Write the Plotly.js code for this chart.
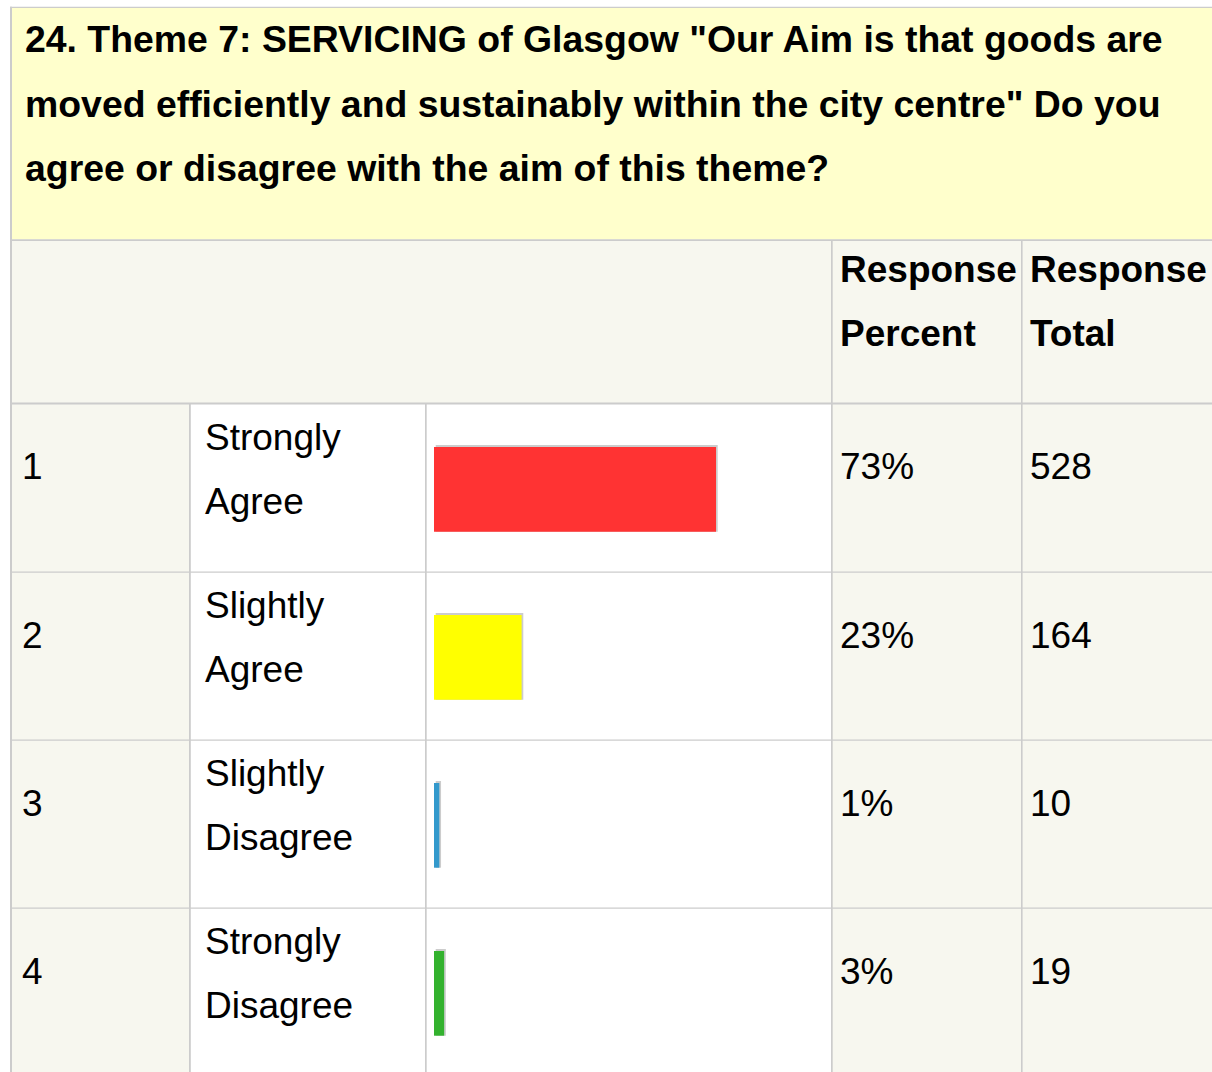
<!DOCTYPE html>
<html>
<head>
<meta charset="utf-8">
<script src="https://cdn.plot.ly/plotly-3.0.1.min.js"></script>
<style>
  html, body { margin: 0; padding: 0; background: #ffffff; }
  #chart { width: 1212px; height: 1072px; }
</style>
</head>
<body>
<div id="chart"></div>
<script>
// ---- data ----
const titleLines = [
  '24. Theme 7: SERVICING of Glasgow "Our Aim is that goods are',
  'moved efficiently and sustainably within the city centre" Do you',
  'agree or disagree with the aim of this theme?'
];
const headerPercent = ['Response', 'Percent'];
const headerTotal = ['Response', 'Total'];
const rowNumbers = ['1', '2', '3', '4'];
const answerLabels = [['Strongly', 'Agree'], ['Slightly', 'Agree'], ['Slightly', 'Disagree'], ['Strongly', 'Disagree']];
const responsePercent = [73, 23, 1, 3];
const responseTotal = [528, 164, 10, 19];
const barColors = ['#FF3333', '#FFFF00', '#3399CC', '#33B22E'];

// ---- geometry helpers (pixels -> paper) ----
const W = 1212, H = 1072;
const px = x => x / W;
const py = y => 1 - y / H;
const FONT = 'Liberation Sans, Arial, Helvetica, sans-serif';
const FS = 37;
const FS_TITLE = 37.4;
const GRID = '#CCCCCC';
const BEIGE = '#F7F7EF';

function rect(x0, y0, x1, y1, color) {
  return { type: 'rect', xref: 'paper', yref: 'paper', layer: 'below',
    x0: px(x0), x1: px(x1), y0: py(y1), y1: py(y0),
    fillcolor: color, line: { width: 0 } };
}

const rowTop = 404, rowH = 168;
const shapes = [
  rect(12, 8, W, 239.5, '#FFFFCC'),
  rect(12, 241, W, 403, BEIGE),
  rect(12, 404, 190, H, BEIGE),
  rect(190, 404, 832, H, '#FFFFFF'),
  rect(832, 404, W, H, BEIGE),
  // borders
  rect(10, 6.7, W, 8, GRID),
  rect(10, 6.7, 12, H, GRID),
  rect(12, 239.3, W, 241, GRID),
  rect(12, 402.6, W, 404.4, GRID),
  rect(831, 241, 832.7, H, GRID),
  rect(1021, 241, 1022.6, H, GRID),
  rect(189, 404, 190.8, H, GRID),
  rect(425, 404, 426.7, H, GRID)
];
for (let i = 1; i < rowNumbers.length; i++) {
  const y = rowTop + i * rowH;
  shapes.push(rect(12, y - 0.5, W, y + 0.7, GRID));
}

const annotations = [];
function txt(x, yc, text, bold, size) {
  annotations.push({ xref: 'paper', yref: 'paper', x: px(x), y: py(yc),
    xanchor: 'left', yanchor: 'middle', showarrow: false,
    borderpad: 0, borderwidth: 0,
    text: bold ? '<b>' + text + '</b>' : text,
    font: { family: FONT, size: size || FS, color: '#000000' } });
}
titleLines.forEach((t, i) => txt(25, 39.5 + 64 * i, t, true, FS_TITLE));
headerPercent.forEach((t, i) => txt(839.5, 269.5 + 64 * i, t, true));
headerTotal.forEach((t, i) => txt(1029.5, 269.5 + 64 * i, t, true));
rowNumbers.forEach((n, i) => {
  const top = rowTop + i * rowH;
  txt(22, top + 63, n, false);
  answerLabels[i].forEach((l, j) => txt(205, top + 33 + 64 * j, l, false));
  txt(840, top + 63, responsePercent[i] + '%', false);
  txt(1030, top + 63, String(responseTotal[i]), false);
});

// ---- bars ----
const pxPerUnit = 282 / 528;         // bar scale
const xDomPx = [434, 822];
const xMax = (xDomPx[1] - xDomPx[0]) / pxPerUnit;
const shiftUnits = 1.7 / pxPerUnit;  // shadow shifted right
const rowsIdx = rowNumbers.map((_, i) => i);

// shadow on base axis (drawn first), coloured bars on overlay axis (drawn on top)
const shadow = {
  type: 'bar', orientation: 'h', x: responseTotal, y: rowsIdx,
  xaxis: 'x', yaxis: 'y',
  width: 86.7 / rowH, offset: -43 / rowH,
  marker: { color: GRID, line: { width: 0 } },
  hoverinfo: 'skip', showlegend: false
};
const bars = {
  type: 'bar', orientation: 'h', x: responseTotal, y: rowsIdx,
  xaxis: 'x2', yaxis: 'y',
  width: 84.7 / rowH, offset: -41 / rowH,
  marker: { color: barColors, line: { width: 0 } },
  hoverinfo: 'skip', showlegend: false
};

const layout = {
  width: W, height: H,
  margin: { l: 0, r: 0, t: 0, b: 0, pad: 0 },
  paper_bgcolor: '#FFFFFF', plot_bgcolor: 'rgba(0,0,0,0)',
  showlegend: false,
  xaxis: { domain: [px(xDomPx[0]), px(xDomPx[1])], range: [-shiftUnits, xMax - shiftUnits], visible: false, fixedrange: true },
  xaxis2: { overlaying: 'x', anchor: 'y', range: [0, xMax], visible: false, fixedrange: true },
  yaxis: { domain: [0, py(rowTop)], range: [-0.5 + (H - rowTop) / rowH, -0.5], visible: false, fixedrange: true },
  shapes: shapes,
  annotations: annotations
};

Plotly.newPlot('chart', [shadow, bars], layout, { staticPlot: true, displayModeBar: false });
</script>
</body>
</html>
